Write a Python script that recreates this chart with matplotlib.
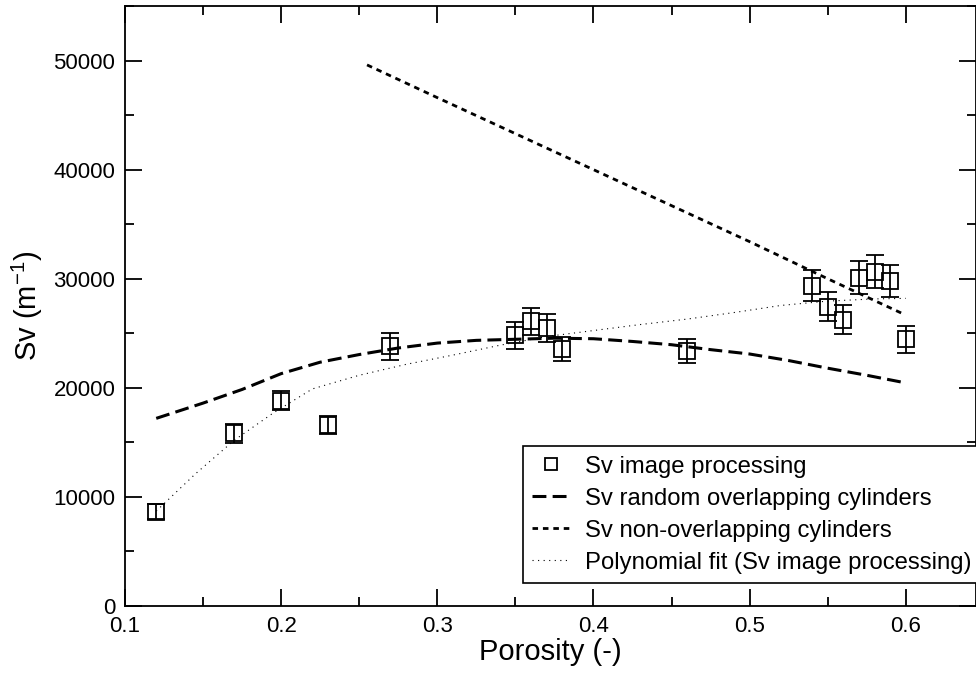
import matplotlib
matplotlib.use("Agg")
import matplotlib.pyplot as plt
from matplotlib.ticker import MultipleLocator

plt.rcParams['font.family'] = ['Liberation Sans', 'DejaVu Sans']
plt.rcParams['mathtext.default'] = 'regular'
plt.rcParams['lines.scale_dashes'] = False

# Measured data (image processing) with error bars
porosity = [0.12, 0.17, 0.20, 0.23, 0.27, 0.35, 0.36, 0.37, 0.38, 0.46,
            0.54, 0.55, 0.56, 0.57, 0.58, 0.59, 0.60]
sv_image = [8650, 15850, 18800, 16600, 23800, 24800, 26100, 25450, 23600, 23400,
            29350, 27450, 26250, 30100, 30650, 29750, 24450]
sv_err = [700, 870, 870, 850, 1240, 1240, 1240, 1280, 1100, 1100,
          1420, 1330, 1330, 1500, 1500, 1470, 1240]

# Random overlapping cylinders model
x_random = [0.12, 0.15, 0.175, 0.20, 0.225, 0.25, 0.275, 0.30, 0.325, 0.35,
            0.375, 0.40, 0.425, 0.45, 0.475, 0.50, 0.525, 0.55, 0.575, 0.60]
sv_random = [17200, 18600, 19850, 21300, 22350, 23050, 23650, 24100, 24350, 24450,
             24550, 24500, 24250, 23950, 23500, 23100, 22500, 21800, 21150, 20450]

# Non-overlapping cylinders model
x_nonover = [0.255, 0.30, 0.35, 0.40, 0.45, 0.50, 0.55, 0.598]
sv_nonover = [49600, 46600, 43300, 40000, 36700, 33400, 30000, 26800]

# Polynomial fit of image processing data
x_poly = [0.12, 0.145, 0.17, 0.195, 0.22, 0.25, 0.28, 0.31, 0.34, 0.37,
          0.40, 0.43, 0.46, 0.49, 0.52, 0.55, 0.58, 0.60]
sv_poly = [8700, 12100, 15200, 17700, 19900, 21150, 22150, 23000, 23900, 24700,
           25250, 25800, 26300, 26900, 27550, 27950, 28150, 28200]

fig = plt.figure(figsize=(9.76, 6.73), dpi=100)
ax = fig.add_axes([125/976, 67/673, 851/976, 600/673])

ax.errorbar(porosity, sv_image, yerr=sv_err, fmt='none', ecolor='black',
            elinewidth=1.3, capsize=6.5, capthick=1.3, zorder=3)
ax.plot(porosity, sv_image, 's', ms=12, mfc='none', mec='black', mew=1.3,
        label='Sv image processing', zorder=4)
ax.plot(x_random, sv_random, color='black', lw=2.2, dashes=(10, 4.5),
        label='Sv random overlapping cylinders')
ax.plot(x_nonover, sv_nonover, color='black', lw=2.0, dashes=(4, 3.5),
        label='Sv non-overlapping cylinders')
ax.plot(x_poly, sv_poly, color='black', lw=0.8, dashes=(0.8, 3.2),
        label='Polynomial fit (Sv image processing)')

ax.set_xlim(0.1, 0.645)
ax.set_ylim(0, 55000)
ax.xaxis.set_major_locator(MultipleLocator(0.1))
ax.xaxis.set_minor_locator(MultipleLocator(0.05))
ax.yaxis.set_major_locator(MultipleLocator(10000))
ax.yaxis.set_minor_locator(MultipleLocator(5000))
ax.set_xticks([0.1, 0.2, 0.3, 0.4, 0.5, 0.6])
ax.set_xticklabels(['0.1', '0.2', '0.3', '0.4', '0.5', '0.6'])

ax.tick_params(which='both', direction='in', top=True, right=True,
               width=1.3, labelsize=16)
ax.tick_params(which='major', length=12, pad=7)
ax.tick_params(which='minor', length=6.5)
for s in ax.spines.values():
    s.set_linewidth(1.3)

ax.set_xlabel('Porosity (-)', fontsize=21, labelpad=1)
ax.set_ylabel('Sv (m$^{-1}$)', fontsize=21, labelpad=6)

leg = ax.legend(loc='lower right', bbox_to_anchor=(1.006, 0.038), fontsize=17.2,
                frameon=True, fancybox=False, edgecolor='black', framealpha=1,
                handlelength=1.55, handletextpad=0.65, labelspacing=0.42,
                borderpad=0.4, borderaxespad=0, markerscale=0.75)
leg.get_frame().set_linewidth(1.2)

fig.savefig('out.png', dpi=100)
